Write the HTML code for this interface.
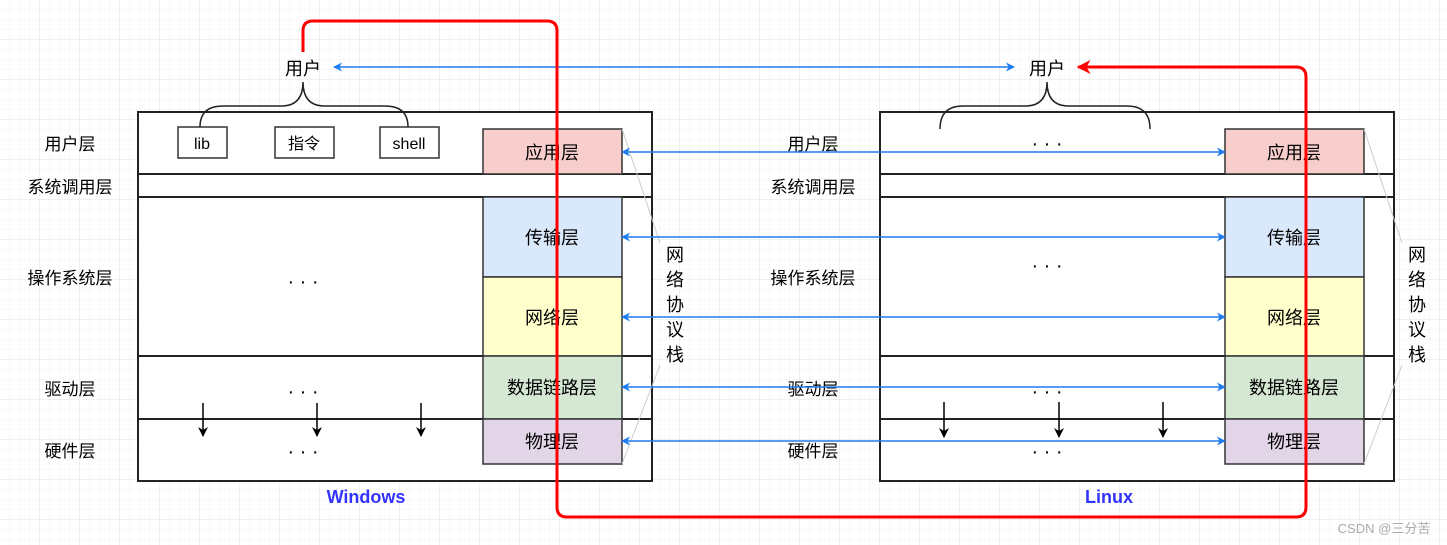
<!DOCTYPE html>
<html><head><meta charset="utf-8"><style>
html,body{margin:0;padding:0;background:#fff;}
svg{display:block;font-family:"Liberation Sans","Noto Sans CJK SC",sans-serif;}
</style></head><body>
<svg width="1447" height="545" viewBox="0 0 1447 545" xmlns="http://www.w3.org/2000/svg">
<defs>
<pattern id="g1" width="10" height="10" patternUnits="userSpaceOnUse"><path d="M10 0V10H0" fill="none" stroke="#f1f1f1" stroke-width="1"/></pattern>
<pattern id="g2" width="40" height="40" patternUnits="userSpaceOnUse"><rect width="40" height="40" fill="url(#g1)"/><path d="M40 0V40H0" fill="none" stroke="#e2e2e2" stroke-width="1"/></pattern>
<marker id="ab" viewBox="0 0 10 10" refX="9" refY="5" markerWidth="9" markerHeight="9" orient="auto-start-reverse" markerUnits="userSpaceOnUse"><path d="M0 0L10 5L0 10L3 5Z" fill="#1e7cf0"/></marker>
<marker id="ar" viewBox="0 0 10 10" refX="9" refY="5" markerWidth="14" markerHeight="14" orient="auto" markerUnits="userSpaceOnUse"><path d="M0 0L10 5L0 10L3 5Z" fill="#f00"/></marker>
<marker id="ak" viewBox="0 0 10 10" refX="9" refY="5" markerWidth="10" markerHeight="10" orient="auto" markerUnits="userSpaceOnUse"><path d="M0 0L10 5L0 10L3 5Z" fill="#000"/></marker>
</defs>
<rect width="1447" height="545" fill="url(#g2)"/>

<g font-size="18" text-anchor="middle" fill="#000">
<!-- Windows -->
<rect x="138" y="112" width="514" height="369" fill="#fff" stroke="#222" stroke-width="2"/>
<line x1="138" y1="174" x2="652" y2="174" stroke="#222" stroke-width="2"/>
<line x1="138" y1="197" x2="652" y2="197" stroke="#222" stroke-width="2"/>
<line x1="138" y1="356" x2="652" y2="356" stroke="#222" stroke-width="2"/>
<line x1="138" y1="419" x2="652" y2="419" stroke="#222" stroke-width="2"/>
<rect x="483" y="129" width="139" height="45" fill="#f8cecc" stroke="#333" stroke-width="1.5"/>
<rect x="483" y="197" width="139" height="80" fill="#dae8fc" stroke="#333" stroke-width="1.5"/>
<rect x="483" y="277" width="139" height="79" fill="#ffffcc" stroke="#333" stroke-width="1.5"/>
<rect x="483" y="356" width="139" height="63" fill="#d5e8d4" stroke="#333" stroke-width="1.5"/>
<rect x="483" y="419" width="139" height="45" fill="#e1d5e7" stroke="#333" stroke-width="1.5"/>
<text x="552" y="159">应用层</text><text x="552" y="244">传输层</text><text x="552" y="324">网络层</text><text x="552" y="394">数据链路层</text><text x="552" y="448">物理层</text>
<rect x="178" y="127" width="49" height="31" fill="#fff" stroke="#333" stroke-width="1.5"/>
<rect x="275" y="127" width="59" height="31" fill="#fff" stroke="#333" stroke-width="1.5"/>
<rect x="380" y="127" width="59" height="31" fill="#fff" stroke="#333" stroke-width="1.5"/>
<text x="202" y="149" font-size="16">lib</text><text x="304" y="149" font-size="16">指令</text><text x="409" y="149" font-size="16">shell</text>
<path d="M303 82Q303 105 283 106H223Q200 106 200 127M303 82Q303 105 323 106H385Q408 106 408 127" fill="none" stroke="#222" stroke-width="1.5"/>
<text x="303" y="75">用户</text>
<text x="303" y="288" font-size="20">· · ·</text><text x="303" y="398" font-size="20">· · ·</text><text x="303" y="458" font-size="20">· · ·</text>
<line x1="203" y1="403" x2="203" y2="436" stroke="#000" stroke-width="1.5" marker-end="url(#ak)"/>
<line x1="317" y1="403" x2="317" y2="436" stroke="#000" stroke-width="1.5" marker-end="url(#ak)"/>
<line x1="421" y1="403" x2="421" y2="436" stroke="#000" stroke-width="1.5" marker-end="url(#ak)"/>
<g font-size="17"><text x="70" y="150">用户层</text><text x="70" y="193">系统调用层</text><text x="70" y="284">操作系统层</text><text x="70" y="395">驱动层</text><text x="70" y="457">硬件层</text></g>
<path d="M622 129L660 243M622 464L660 365" stroke="#ccc" stroke-width="1" fill="none"/>
<g font-size="18"><text x="675" y="261">网</text><text x="675" y="286">络</text><text x="675" y="311">协</text><text x="675" y="336">议</text><text x="675" y="361">栈</text></g>
<text x="366" y="503" font-weight="bold" fill="#3333ff">Windows</text>

<!-- Linux -->
<rect x="880" y="112" width="514" height="369" fill="#fff" stroke="#222" stroke-width="2"/>
<line x1="880" y1="174" x2="1394" y2="174" stroke="#222" stroke-width="2"/>
<line x1="880" y1="197" x2="1394" y2="197" stroke="#222" stroke-width="2"/>
<line x1="880" y1="356" x2="1394" y2="356" stroke="#222" stroke-width="2"/>
<line x1="880" y1="419" x2="1394" y2="419" stroke="#222" stroke-width="2"/>
<rect x="1225" y="129" width="139" height="45" fill="#f8cecc" stroke="#333" stroke-width="1.5"/>
<rect x="1225" y="197" width="139" height="80" fill="#dae8fc" stroke="#333" stroke-width="1.5"/>
<rect x="1225" y="277" width="139" height="79" fill="#ffffcc" stroke="#333" stroke-width="1.5"/>
<rect x="1225" y="356" width="139" height="63" fill="#d5e8d4" stroke="#333" stroke-width="1.5"/>
<rect x="1225" y="419" width="139" height="45" fill="#e1d5e7" stroke="#333" stroke-width="1.5"/>
<text x="1294" y="159">应用层</text><text x="1294" y="244">传输层</text><text x="1294" y="324">网络层</text><text x="1294" y="394">数据链路层</text><text x="1294" y="448">物理层</text>
<path d="M1047 82Q1047 105 1027 106H963Q940 106 940 129M1047 82Q1047 105 1067 106H1127Q1150 106 1150 129" fill="none" stroke="#222" stroke-width="1.5"/>
<text x="1047" y="75">用户</text>
<text x="1047" y="150" font-size="20">· · ·</text><text x="1047" y="272" font-size="20">· · ·</text><text x="1047" y="398" font-size="20">· · ·</text><text x="1047" y="458" font-size="20">· · ·</text>
<line x1="944" y1="402" x2="944" y2="437" stroke="#000" stroke-width="1.5" marker-end="url(#ak)"/>
<line x1="1059" y1="402" x2="1059" y2="437" stroke="#000" stroke-width="1.5" marker-end="url(#ak)"/>
<line x1="1163" y1="402" x2="1163" y2="437" stroke="#000" stroke-width="1.5" marker-end="url(#ak)"/>
<g font-size="17"><text x="813" y="150">用户层</text><text x="813" y="193">系统调用层</text><text x="813" y="284">操作系统层</text><text x="813" y="395">驱动层</text><text x="813" y="457">硬件层</text></g>
<path d="M1364 129L1402 243M1364 464L1402 365" stroke="#ccc" stroke-width="1" fill="none"/>
<g font-size="18"><text x="1417" y="261">网</text><text x="1417" y="286">络</text><text x="1417" y="311">协</text><text x="1417" y="336">议</text><text x="1417" y="361">栈</text></g>
<text x="1109" y="503" font-weight="bold" fill="#3333ff">Linux</text>
</g>

<!-- blue arrows -->
<g stroke="#1e7cf0" stroke-width="1.5" fill="none">
<line x1="334" y1="67" x2="1014" y2="67" marker-start="url(#ab)" marker-end="url(#ab)"/>
<line x1="622" y1="152" x2="1225" y2="152" marker-start="url(#ab)" marker-end="url(#ab)"/>
<line x1="622" y1="237" x2="1225" y2="237" marker-start="url(#ab)" marker-end="url(#ab)"/>
<line x1="622" y1="317" x2="1225" y2="317" marker-start="url(#ab)" marker-end="url(#ab)"/>
<line x1="622" y1="387" x2="1225" y2="387" marker-start="url(#ab)" marker-end="url(#ab)"/>
<line x1="622" y1="441" x2="1225" y2="441" marker-start="url(#ab)" marker-end="url(#ab)"/>
</g>
<!-- red path -->
<path d="M303 52V31Q303 21 313 21H547Q557 21 557 31V507Q557 517 567 517H1296Q1306 517 1306 507V77Q1306 67 1296 67H1078" fill="none" stroke="#f00" stroke-width="3" marker-end="url(#ar)"/>

<text x="1384" y="533" font-size="13" fill="#aaa" text-anchor="middle" font-family="Liberation Sans,Noto Sans CJK SC,sans-serif">CSDN @三分苦</text>
</svg>
</body></html>
